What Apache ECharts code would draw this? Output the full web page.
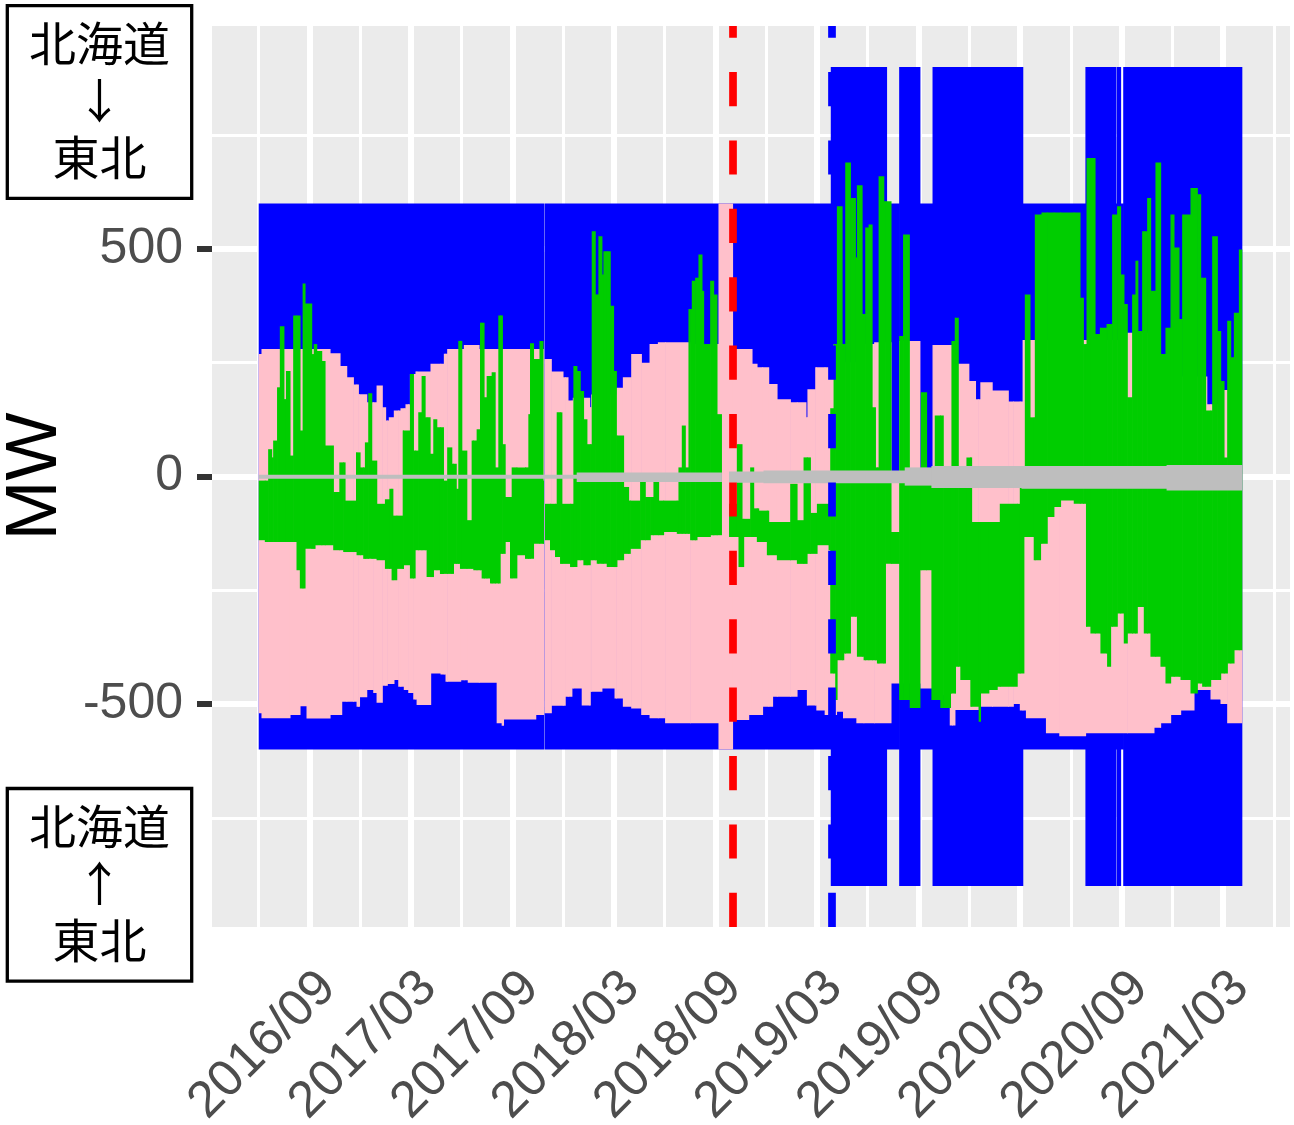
<!DOCTYPE html>
<html>
<head>
<meta charset="utf-8">
<script src="https://cdn.jsdelivr.net/npm/echarts@6/dist/echarts.min.js"></script>
<style>
  html, body { margin: 0; padding: 0; background: #ffffff; }
  #chart { width: 1294px; height: 1125px; }
</style>
</head>
<body>
<div id="chart"></div>
<script>
// 北海道・本州間連系設備の運用容量と潮流 (MW)
const END_DATE = '2021-04-04';

// 運用容量 (±)
const blueDates = ['2016-06-01','2017-10-26','2017-10-28','2019-03-27','2019-07-05','2019-07-28','2019-09-03','2019-09-26','2020-03-06','2020-06-27','2020-08-20','2020-08-22','2020-08-29','2020-09-03'];
const blueCap   = [600, null, 600, 900, 600, 900, 600, 900, 600, 900, 600, 900, 600, 900];

// 空容量 上側 (北海道→東北)
const pinkUpDates = ['2016-06-01','2016-06-06','2016-10-07','2016-10-25','2016-11-06','2016-11-18','2016-11-27','2016-12-12','2016-12-30','2017-01-09','2017-01-15','2017-01-21','2017-01-30','2017-02-11','2017-02-20','2017-02-28','2017-03-10','2017-04-06','2017-04-30','2017-05-06','2017-06-05','2017-07-02','2017-10-26','2017-10-28','2017-11-09','2017-11-30','2017-12-09','2017-12-18','2018-01-17','2018-01-20','2018-03-06','2018-03-18','2018-04-02','2018-04-20','2018-05-05','2018-05-20','2018-07-17','2018-09-06','2018-10-01','2018-11-05','2018-11-14','2018-12-05','2018-12-20','2019-01-13','2019-02-10','2019-02-13','2019-02-27','2019-03-23','2019-04-01','2019-04-19','2019-05-25','2019-06-13','2019-07-13','2019-07-28','2019-09-03','2019-09-26','2019-10-31','2019-11-30','2019-12-12','2019-12-21','2020-01-11','2020-02-09','2020-03-06','2020-09-10','2020-11-08','2020-12-14','2021-01-31','2021-02-24'];
const pinkUp = [269,280,271,243,218,202,181,163,200,152,123,130,145,150,159,225,231,248,270,280,289,280,null,258,231,218,167,173,152,180,195,218,269,250,291,295,291,600,280,248,240,203,170,163,130,192,240,220,290,251,291,295,0,298,0,289,248,210,170,207,189,165,300,316,262,220,159,190];

// 空容量 下側 (東北→北海道)
const pinkLoDates = ['2016-06-01','2016-06-06','2016-07-27','2016-08-14','2016-08-26','2016-10-07','2016-10-28','2016-11-24','2016-11-29','2016-12-12','2016-12-24','2016-12-30','2017-01-09','2017-01-18','2017-01-30','2017-02-07','2017-02-17','2017-02-25','2017-03-06','2017-03-12','2017-04-06','2017-04-24','2017-05-03','2017-05-30','2017-06-12','2017-08-03','2017-08-12','2017-08-15','2017-10-12','2017-10-26','2017-10-28','2017-11-09','2017-12-04','2017-12-16','2018-01-03','2018-01-18','2018-02-08','2018-03-03','2018-03-18','2018-04-02','2018-04-20','2018-05-05','2018-06-02','2018-09-06','2018-10-01','2018-10-30','2018-11-24','2018-12-12','2019-01-25','2019-02-12','2019-03-01','2019-03-16','2019-04-06','2019-04-18','2019-05-12','2019-07-13','2019-09-04','2019-09-27','2019-10-27','2019-11-05','2019-12-17','2020-02-18','2020-03-01','2020-03-12','2020-04-17','2020-05-11','2020-06-27','2020-10-28','2020-11-09','2020-11-27','2020-12-15','2021-01-08','2021-02-07','2021-02-25','2021-03-09'];
const pinkLo = [-520,-531,-524,-505,-532,-524,-495,-506,-485,-469,-476,-497,-460,-456,-447,-462,-469,-476,-490,-502,-433,-435,-451,-448,-453,-542,-548,-534,-524,null,-520,-504,-484,-466,-503,-473,-466,-488,-506,-510,-524,-531,-542,-600,-535,-524,-506,-484,-469,-503,-514,-524,-517,-531,-542,-455,-466,-480,-547,-513,-506,-500,-514,-531,-564,-571,-564,-552,-542,-524,-514,-469,-490,-500,-542];

// 潮流実績 (期間ごとの最大値)
const greenHiDates = ['2016-06-01','2016-06-18','2016-06-24','2016-06-27','2016-07-04','2016-07-09','2016-07-16','2016-07-20','2016-07-27','2016-08-02','2016-08-14','2016-08-19','2016-08-23','2016-09-04','2016-09-08','2016-09-13','2016-09-22','2016-09-28','2016-10-13','2016-10-24','2016-11-03','2016-11-23','2016-11-30','2016-12-09','2016-12-15','2016-12-21','2016-12-30','2017-01-14','2017-01-22','2017-01-28','2017-02-15','2017-02-28','2017-03-06','2017-03-15','2017-03-21','2017-03-27','2017-04-05','2017-04-11','2017-04-17','2017-04-29','2017-05-06','2017-05-14','2017-05-22','2017-05-26','2017-06-01','2017-06-10','2017-06-19','2017-06-28','2017-07-04','2017-07-11','2017-07-16','2017-07-25','2017-07-31','2017-08-06','2017-08-13','2017-08-18','2017-08-30','2017-09-29','2017-10-02','2017-10-08','2017-10-19','2017-10-25','2017-10-26','2017-10-29','2017-11-19','2017-11-28','2017-12-19','2017-12-25','2017-12-31','2018-01-06','2018-01-12','2018-01-21','2018-01-27','2018-02-02','2018-02-08','2018-02-11','2018-02-23','2018-03-01','2018-03-06','2018-03-19','2018-03-28','2018-04-18','2018-04-27','2018-05-12','2018-05-21','2018-06-26','2018-07-02','2018-07-08','2018-07-14','2018-07-20','2018-07-26','2018-08-01','2018-08-07','2018-08-10','2018-08-22','2018-08-28','2018-09-03','2018-09-11','2018-09-25','2018-10-09','2018-10-18','2018-11-02','2018-11-08','2018-11-17','2018-12-05','2019-01-13','2019-01-25','2019-02-06','2019-02-18','2019-03-02','2019-03-26','2019-04-01','2019-04-07','2019-04-16','2019-04-22','2019-05-01','2019-05-10','2019-05-13','2019-05-22','2019-05-28','2019-06-03','2019-06-09','2019-06-15','2019-06-21','2019-06-30','2019-07-13','2019-07-28','2019-08-04','2019-08-15','2019-09-05','2019-09-15','2019-09-24','2019-09-30','2019-10-15','2019-10-30','2019-11-05','2019-11-11','2019-11-26','2019-12-05','2020-01-25','2020-03-01','2020-03-10','2020-03-19','2020-03-28','2020-04-09','2020-06-17','2020-06-23','2020-06-29','2020-07-14','2020-07-23','2020-08-04','2020-08-14','2020-08-23','2020-08-29','2020-09-04','2020-09-10','2020-09-19','2020-09-25','2020-09-29','2020-10-07','2020-10-16','2020-10-22','2020-10-31','2020-11-09','2020-11-18','2020-11-27','2020-12-03','2020-12-12','2020-12-18','2021-01-02','2021-01-14','2021-01-20','2021-01-29','2021-02-10','2021-02-19','2021-02-25','2021-03-03','2021-03-09','2021-03-15','2021-03-21','2021-03-30'];
const greenHi = [-9,60,42,79,196,330,170,232,46,354,101,424,380,269,291,276,254,68,-34,31,-53,53,20,75,183,35,-60,-50,-27,-86,101,225,57,141,221,130,50,126,108,-9,64,28,-27,298,57,-96,79,104,338,174,221,229,20,354,71,-45,20,137,293,258,298,-9,null,-60,141,-60,243,232,188,126,71,539,400,528,444,495,375,232,90,-23,-53,-12,-45,-12,-53,20,112,20,368,430,437,488,408,291,430,400,137,null,-60,71,-93,20,-70,-75,-100,-16,-96,42,-80,-60,150,291,594,291,690,612,481,640,357,547,554,152,20,660,605,-122,309,532,-5,185,17,-5,134,-5,298,349,-5,42,-100,-60,-5,400,130,576,580,393,291,700,313,327,335,576,594,444,379,174,400,474,320,539,612,408,690,269,327,576,503,346,576,634,620,437,145,528,320,210,42,342,262,360,499];

// 潮流実績 (期間ごとの最小値)
const greenLoDates = ['2016-06-01','2016-06-12','2016-08-08','2016-08-14','2016-08-23','2016-09-10','2016-10-13','2016-10-31','2016-11-24','2016-12-06','2016-12-30','2017-01-14','2017-01-26','2017-02-04','2017-02-16','2017-02-28','2017-03-09','2017-03-30','2017-04-11','2017-04-23','2017-05-17','2017-05-29','2017-06-22','2017-07-07','2017-07-22','2017-08-09','2017-08-18','2017-08-27','2017-09-08','2017-09-23','2017-10-08','2017-10-26','2017-10-29','2017-11-07','2017-11-16','2017-11-25','2017-12-13','2017-12-25','2018-01-06','2018-01-18','2018-01-30','2018-02-17','2018-03-07','2018-03-19','2018-03-31','2018-04-18','2018-05-06','2018-05-30','2018-06-23','2018-07-17','2018-07-29','2018-08-22','2018-09-11','2018-09-25','2018-10-12','2018-10-21','2018-11-14','2018-12-02','2018-12-20','2019-01-25','2019-02-12','2019-03-02','2019-03-23','2019-03-26','2019-04-04','2019-04-07','2019-04-19','2019-05-01','2019-05-13','2019-05-25','2019-06-18','2019-07-03','2019-07-28','2019-08-16','2019-09-03','2019-09-24','2019-10-10','2019-10-28','2019-11-06','2019-11-15','2019-12-03','2019-12-18','2019-12-21','2020-01-05','2020-01-20','2020-02-25','2020-03-08','2020-03-26','2020-04-07','2020-04-19','2020-05-01','2020-05-13','2020-06-06','2020-06-28','2020-07-06','2020-07-24','2020-08-05','2020-08-11','2020-08-23','2020-09-04','2020-09-10','2020-09-28','2020-10-10','2020-10-22','2020-11-09','2020-11-18','2020-11-27','2020-12-15','2021-01-02','2021-01-14','2021-01-23','2021-02-07','2021-02-25','2021-03-09','2021-03-21'];
const greenLo = [-140,-144,-206,-246,-159,-151,-162,-166,-173,-181,-184,-203,-228,-203,-195,-224,-162,-221,-206,-214,-192,-203,-206,-224,-235,-170,-144,-224,-173,-181,-148,null,-140,-162,-177,-192,-199,-184,-195,-184,-192,-199,-184,-170,-159,-140,-129,-122,-126,-140,-133,-129,null,-133,-199,-133,-144,-173,-184,-192,-170,-151,-162,-433,-491,-404,-389,-308,-396,-404,-411,-192,-491,-509,-206,-491,-509,-477,-418,-447,-506,-539,-477,-469,-462,-433,-133,-184,-148,-89,-67,-53,-60,-330,-345,-389,-418,-330,-301,-367,-345,-287,-345,-396,-418,-455,-440,-447,-477,-455,-462,-447,-433,-411,-382];

// マージン (0 付近の帯)
const grayDates = ['2016-06-01','2017-12-25','2018-09-11','2018-09-25','2018-11-26','2019-08-07','2019-09-24','2020-03-04','2020-11-20'];
const grayHi = [4, 9, null, 11, 13, 20, 23, 23, 25];
const grayLo = [-5, -12, null, -14, -15, -20, -25, -27, -31];

// 目盛
const xTickDates  = ['2016-09-01','2017-03-01','2017-09-01','2018-03-01','2018-09-01','2019-03-01','2019-09-01','2020-03-01','2020-09-01','2021-03-01'];
const xMinorDates = ['2016-06-01','2016-12-01','2017-06-01','2017-12-01','2018-06-01','2018-12-01','2019-06-01','2019-12-01','2020-06-01','2020-12-01','2021-06-01'];
const yTicks = [-500, 0, 500];
const yMinor = [-750, -250, 250, 750];
const xRange = ['2016-03-09', '2021-06-30'];
const yRange = [-990, 990];

// 基準日 (縦破線)
const redLineDate  = '2018-10-01';
const blueLineDate = '2019-03-28';

function toTime(s) {
  const p = s.split('-').map(Number);
  return new Date(p[0], p[1] - 1, p[2]).getTime();
}

function stepAt(times, vals, t) {
  let v = null;
  for (let i = 0; i < times.length; i++) {
    if (times[i] <= t) v = vals[i]; else break;
  }
  return v;
}

// 区間ごとの [開始, 終了, 下端, 上端] を作る
function bands(loDates, loVals, hiDates, hiVals) {
  const loT = loDates.map(toTime), hiT = hiDates.map(toTime);
  const cuts = Array.from(new Set(loT.concat(hiT))).sort((a, b) => a - b);
  const endT = toTime(END_DATE);
  const out = [];
  for (let i = 0; i < cuts.length; i++) {
    const t0 = cuts[i];
    const t1 = i + 1 < cuts.length ? cuts[i + 1] : endT;
    const lo = stepAt(loT, loVals, t0);
    const hi = stepAt(hiT, hiVals, t0);
    if (lo == null || hi == null) continue;
    out.push([t0, t1, lo, hi]);
  }
  return out;
}

const blueBands  = bands(blueDates, blueCap.map(v => v == null ? null : -v), blueDates, blueCap);
const pinkBands  = bands(pinkLoDates, pinkLo, pinkUpDates, pinkUp);
const greenBands = bands(greenLoDates, greenLo, greenHiDates, greenHi);
const grayBands  = bands(grayDates, grayLo, grayDates, grayHi);

function bandRenderer(color) {
  return function (params, api) {
    const a = api.coord([api.value(0), api.value(3)]);
    const b = api.coord([api.value(1), api.value(2)]);
    return {
      type: 'rect',
      shape: { x: a[0], y: a[1], width: b[0] - a[0] + 0.7, height: b[1] - a[1] },
      style: { fill: color }
    };
  };
}

function bandSeries(name, data, color, z) {
  return {
    name: name,
    type: 'custom',
    renderItem: bandRenderer(color),
    dimensions: ['t0', 't1', 'lo', 'hi'],
    encode: { x: ['t0', 't1'], y: ['lo', 'hi'] },
    data: data,
    z: z,
    silent: true,
    clip: true
  };
}

const gridLineData = []
  .concat(xTickDates.map(d => ({ xAxis: toTime(d), lineStyle: { width: 6 } })))
  .concat(xMinorDates.map(d => ({ xAxis: toTime(d), lineStyle: { width: 3 } })))
  .concat(yTicks.map(v => ({ yAxis: v, lineStyle: { width: 6 } })))
  .concat(yMinor.map(v => ({ yAxis: v, lineStyle: { width: 3 } })));

const blueSeries = bandSeries('運用容量', blueBands, '#0000FF', 2);
blueSeries.markLine = {
  silent: true, symbol: ['none', 'none'], label: { show: false }, z: 1,
  lineStyle: { color: '#FFFFFF', type: 'solid' },
  emphasis: { disabled: true },
  data: gridLineData
};

const graySeries = bandSeries('マージン', grayBands, '#BEBEBE', 5);
graySeries.markLine = {
  silent: true, symbol: ['none', 'none'], label: { show: false }, z: 10,
  emphasis: { disabled: true },
  data: [
    { xAxis: toTime(blueLineDate), lineStyle: { color: '#0000FF', width: 7.7, type: [34.2, 34.2] } },
    { xAxis: toTime(redLineDate),  lineStyle: { color: '#FF0000', width: 7.7, type: [34.2, 34.2] } }
  ]
};

const labelFont = '"Liberation Sans", Arial, Helvetica, sans-serif';
const xTickTimes = xTickDates.map(toTime);

const chart = echarts.init(document.getElementById('chart'), null, { renderer: 'canvas' });
chart.setOption({
  animation: false,
  backgroundColor: '#FFFFFF',
  grid: {
    left: 212, top: 26, width: 1078, height: 901,
    containLabel: false, outerBoundsMode: 'none',
    show: true, backgroundColor: '#EBEBEB', borderWidth: 0
  },
  xAxis: {
    type: 'value',
    min: toTime(xRange[0]),
    max: toTime(xRange[1]),
    axisLine: { show: false },
    splitLine: { show: false },
    axisTick: {
      show: true, length: 15, customValues: xTickTimes,
      lineStyle: { color: '#333333', width: 6 }
    },
    axisLabel: {
      customValues: xTickTimes,
      rotate: 45, align: 'right', verticalAlign: 'top', margin: 35,
      fontSize: 51, color: '#4D4D4D', fontFamily: labelFont,
      hideOverlap: false, showMinLabel: true, showMaxLabel: true,
      formatter: function (v) {
        const d = new Date(v);
        return d.getFullYear() + '/' + String(d.getMonth() + 1).padStart(2, '0');
      }
    }
  },
  yAxis: {
    type: 'value',
    min: yRange[0], max: yRange[1],
    name: 'MW', nameLocation: 'middle', nameRotate: 90, nameGap: 140,
    nameTextStyle: { fontSize: 72, color: '#000000', fontFamily: labelFont },
    axisLine: { show: false },
    splitLine: { show: false },
    axisTick: {
      show: true, length: 15, customValues: yTicks,
      lineStyle: { color: '#333333', width: 6 }
    },
    axisLabel: {
      customValues: yTicks, margin: 29,
      fontSize: 50, color: '#4D4D4D', fontFamily: labelFont
    }
  },
  series: [
    blueSeries,
    bandSeries('空容量', pinkBands, '#FFC0CB', 3),
    bandSeries('潮流', greenBands, '#00CD00', 4),
    graySeries
  ],
  graphic: [
    { type: 'rect', shape: { x: 7.3, y: 5.7, width: 184.4, height: 192.6 },
      style: { fill: '#FFFFFF', stroke: '#000000', lineWidth: 3.3 } },
    { type: 'text', x: 99.5, y: 100,
      style: { text: '北海道\n↓\n東北', align: 'center', verticalAlign: 'middle',
               fontSize: 47, lineHeight: 57, fill: '#000000', fontFamily: '"Noto Sans CJK JP"' } },
    { type: 'rect', shape: { x: 7.3, y: 788.5, width: 184.4, height: 192.6 },
      style: { fill: '#FFFFFF', stroke: '#000000', lineWidth: 3.3 } },
    { type: 'text', x: 99.5, y: 883,
      style: { text: '北海道\n↑\n東北', align: 'center', verticalAlign: 'middle',
               fontSize: 47, lineHeight: 57, fill: '#000000', fontFamily: '"Noto Sans CJK JP"' } }
  ]
});
</script>
</body>
</html>
